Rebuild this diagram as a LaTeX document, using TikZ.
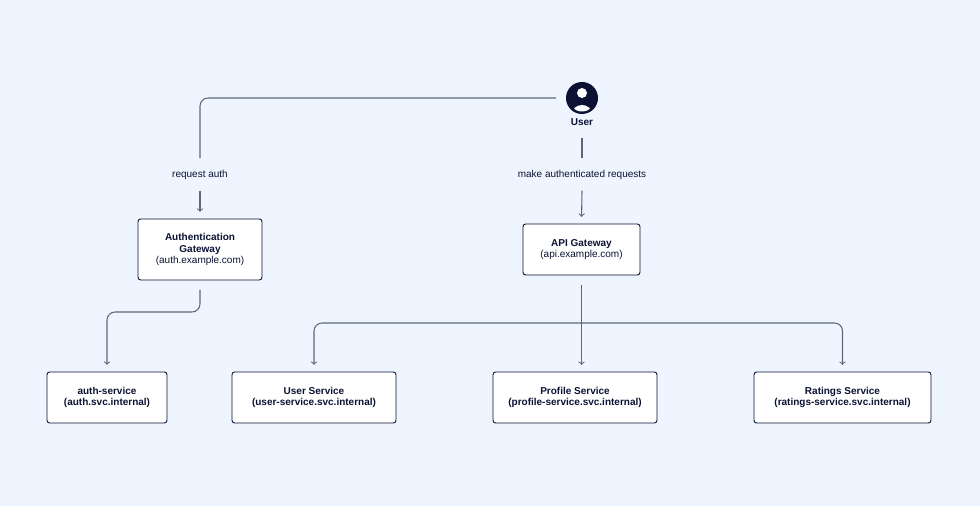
\documentclass[tikz,border=0pt]{standalone}
\usepackage{fontspec}
\setmainfont{Liberation Sans}
\usetikzlibrary{positioning}
\definecolor{bgblue}{HTML}{EEF5FE}
\definecolor{navy}{HTML}{0B1233}
\definecolor{wire}{HTML}{5F6878}
\begin{document}
\begin{tikzpicture}[x=0.75pt, y=-0.75pt, font=\fontsize{7.5}{8.6}\selectfont,
    box/.style={rectangle, draw=navy, fill=white, rounded corners=2pt, align=center, text=navy, line width=0.7pt, inner sep=0pt},
    lbl/.style={text=navy, inner sep=1pt},
    link/.style={draw=wire, line width=0.8pt, rounded corners=6pt},
    arr/.style={link, ->, >=to, shorten >=5pt}]
    \fill[bgblue] (0,0) rectangle (980,506);

    % user
    \fill[navy] (582,98) circle (16);
    \fill[white] (582,93) circle (5);
    \begin{scope}
        \clip (582,98) circle (13.5);
        \fill[white] (582,114) ellipse (10 and 9);
    \end{scope}
    \node[lbl, font=\fontsize{7.5}{8.6}\selectfont\bfseries] (user) at (582,122) {User};

    % gateways
    \node[box, minimum width=124pt*0.75, minimum height=61pt*0.75] (authgw) at (200,249.5)
        {\textbf{Authentication}\\\textbf{Gateway}\\(auth.example.com)};
    \node[box, minimum width=117pt*0.75, minimum height=51pt*0.75] (apigw) at (581.5,249.5)
        {\textbf{API Gateway}\\(api.example.com)};

    % services
    \node[box, minimum width=120pt*0.75, minimum height=51pt*0.75, font=\fontsize{7.5}{8.6}\selectfont\bfseries] (authsvc) at (107,397.5)
        {auth-service\\(auth.svc.internal)};
    \node[box, minimum width=164pt*0.75, minimum height=51pt*0.75, font=\fontsize{7.5}{8.6}\selectfont\bfseries] (usersvc) at (314,397.5)
        {User Service\\(user-service.svc.internal)};
    \node[box, minimum width=164pt*0.75, minimum height=51pt*0.75, font=\fontsize{7.5}{8.6}\selectfont\bfseries] (profilesvc) at (575,397.5)
        {Profile Service\\(profile-service.svc.internal)};
    \node[box, minimum width=177pt*0.75, minimum height=51pt*0.75, font=\fontsize{7.5}{8.6}\selectfont\bfseries] (ratingssvc) at (842.5,397.5)
        {Ratings Service\\(ratings-service.svc.internal)};

    % edge labels
    \node[lbl] (reqauth) at (200,175) {request auth};
    \node[lbl] (reqapi) at (582,175) {make authenticated requests};
    \coordinate (userleft) at (556,98);
    \coordinate (bus) at (582,323);

    % connectors
    \draw[link] (userleft) -| ([yshift=8pt]reqauth.north);
    \draw[arr] ([yshift=-7pt]reqauth.south) -- (authgw.north);
    \draw[link] ([yshift=-8pt]user.south) -- ([yshift=8pt]reqapi.north);
    \draw[arr] ([yshift=-7pt]reqapi.south) -- (apigw.north);
    \draw[arr] ([yshift=-7pt]authgw.south) |- (150,312) -| (authsvc.north);
    \draw[arr] ([yshift=-7pt]apigw.south) -- (profilesvc.north -| apigw.south);
    \draw[arr] (bus) -| (usersvc.north);
    \draw[arr] (bus) -| (ratingssvc.north);
\end{tikzpicture}
\end{document}
